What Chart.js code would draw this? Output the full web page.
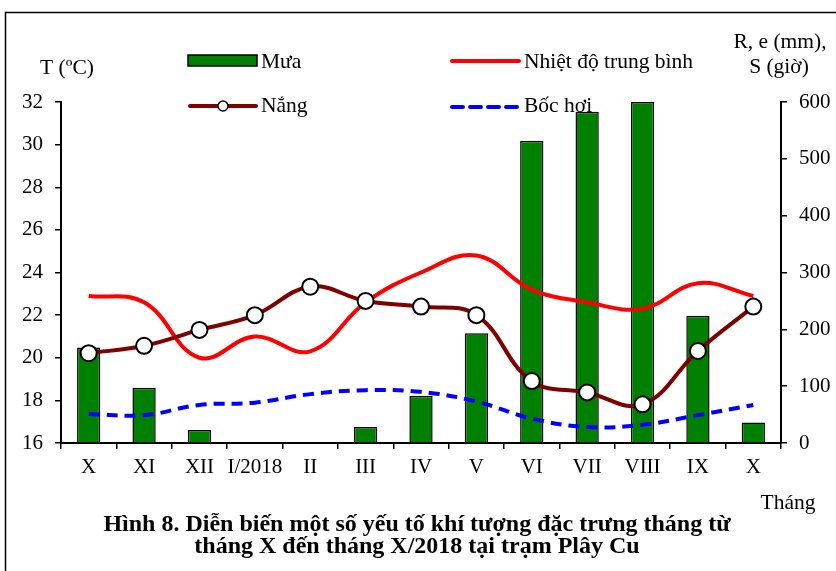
<!DOCTYPE html>
<html>
<head>
<meta charset="utf-8">
<script src="https://cdn.jsdelivr.net/npm/chart.js@4"></script>
<style>
  html, body { margin: 0; padding: 0; background: #fff; }
  #wrap { position: relative; width: 836px; height: 571px; overflow: hidden; }
  #chart { position: absolute; left: 0; top: 0; }
  .caption {
    position: absolute; left: 0; width: 836px; text-align: center;
    font-family: 'Liberation Serif', 'Times New Roman', serif;
    font-weight: bold; font-size: 24px; color: #000; line-height: 22px;
  }
</style>
</head>
<body>
<div id="wrap">
  <canvas id="chart" width="836" height="571"></canvas>
  <div class="caption" style="top:512px; left:-1px;">Hình 8. Diễn biến một số yếu tố khí tượng đặc trưng tháng từ<br>tháng X đến tháng X/2018 tại trạm Plây Cu</div>
</div>
<script>
// months from X/2017 to X/2018
const months = ['X', 'XI', 'XII', 'I/2018', 'II', 'III', 'IV', 'V', 'VI', 'VII', 'VIII', 'IX', 'X'];

// rainfall (mm) - right axis
const rainfall = [168, 97, 23, 0, 0, 28, 83, 193, 532, 583, 600, 224, 36];
// mean temperature (°C) - left axis
const temperature = [22.9, 22.6, 20.0, 21.0, 20.3, 22.6, 24.0, 24.8, 23.2, 22.6, 22.3, 23.5, 22.9];
// sunshine hours - right axis
const sunshine = [158, 171, 199, 225, 275, 250, 240, 225, 109, 89, 68, 162, 240];
// evaporation (mm) - right axis
const evaporation = [51, 49, 67, 71, 86, 93, 90, 73, 43, 28, 32, 49, 67];

const tempTicks = [16, 18, 20, 22, 24, 26, 28, 30, 32];
const rightTicks = [0, 100, 200, 300, 400, 500, 600];

const FONT = "'Liberation Serif', 'Times New Roman', serif";

// frame, legend and axis titles
const decorations = {
    id: 'decorations',
    afterDraw(chart) {
        const ctx = chart.ctx;
        ctx.save();

        // outer frame (only top and left edges fall inside the picture)
        ctx.strokeStyle = '#000';
        ctx.lineWidth = 1.5;
        ctx.strokeRect(5.5, 12.5, 1000, 800);

        ctx.font = '21.5px ' + FONT;
        ctx.fillStyle = '#000';
        ctx.textBaseline = 'middle';

        // Mưa
        ctx.fillStyle = '#008000';
        ctx.fillRect(188, 55, 69, 11);
        ctx.strokeStyle = '#000';
        ctx.lineWidth = 1.5;
        ctx.strokeRect(188, 55, 69, 11);
        ctx.fillStyle = '#000';
        ctx.fillText('Mưa', 261, 62);

        // Nhiệt độ trung bình
        ctx.strokeStyle = '#ff0000';
        ctx.lineWidth = 4;
        ctx.lineCap = 'round';
        ctx.beginPath();
        ctx.moveTo(452, 61);
        ctx.lineTo(519, 61);
        ctx.stroke();
        ctx.fillText('Nhiệt độ trung bình', 524, 62);

        // Nắng
        ctx.strokeStyle = '#800000';
        ctx.lineWidth = 4;
        ctx.beginPath();
        ctx.moveTo(190, 106);
        ctx.lineTo(256, 106);
        ctx.stroke();
        ctx.beginPath();
        ctx.arc(223, 106, 5, 0, Math.PI * 2);
        ctx.fillStyle = '#fff';
        ctx.fill();
        ctx.strokeStyle = '#000';
        ctx.lineWidth = 1.5;
        ctx.stroke();
        ctx.fillStyle = '#000';
        ctx.fillText('Nắng', 261, 106);

        // Bốc hơi
        ctx.strokeStyle = '#0000ff';
        ctx.lineWidth = 4;
        ctx.setLineDash([11, 7]);
        ctx.beginPath();
        ctx.moveTo(452, 107);
        ctx.lineTo(520, 107);
        ctx.stroke();
        ctx.setLineDash([]);
        ctx.fillText('Bốc hơi', 524, 106);

        // axis titles
        ctx.textAlign = 'center';
        ctx.fillText('T (ºC)', 67, 68);
        ctx.fillText('R, e (mm),', 780, 42);
        ctx.fillText('S (giờ)', 779, 67);
        ctx.fillText('Tháng', 788, 503);

        ctx.restore();
    }
};

const axisFont = { family: FONT, size: 21 };

new Chart(document.getElementById('chart'), {
    type: 'bar',
    data: {
        labels: months,
        datasets: [
            {
                type: 'line',
                label: 'Nắng',
                data: sunshine,
                yAxisID: 'y1',
                borderColor: '#800000',
                borderWidth: 4,
                tension: 0.4,
                pointRadius: 8,
                pointBackgroundColor: '#fff',
                pointBorderColor: '#000',
                pointBorderWidth: 2,
                order: 1
            },
            {
                type: 'line',
                label: 'Nhiệt độ trung bình',
                data: temperature,
                yAxisID: 'y',
                borderColor: '#ff0000',
                borderWidth: 4,
                tension: 0.4,
                pointRadius: 0,
                order: 2
            },
            {
                type: 'line',
                label: 'Bốc hơi',
                data: evaporation,
                yAxisID: 'y1',
                borderColor: '#0000ff',
                borderWidth: 4,
                borderDash: [11, 7],
                tension: 0.4,
                pointRadius: 0,
                order: 3
            },
            {
                label: 'Mưa',
                data: rainfall,
                yAxisID: 'y1',
                backgroundColor: '#008000',
                borderColor: '#000',
                borderWidth: 1.5,
                barPercentage: 0.42,
                categoryPercentage: 1,
                order: 4
            }
        ]
    },
    options: {
        responsive: false,
        animation: false,
        layout: {
            padding: { top: 102, left: 0, right: 0, bottom: 0 }
        },
        plugins: {
            legend: { display: false },
            tooltip: { enabled: false }
        },
        scales: {
            x: {
                offset: true,
                grid: {
                    offset: true,
                    drawOnChartArea: false,
                    drawTicks: true,
                    tickLength: 6,
                    color: '#000',
                    lineWidth: 1.5
                },
                border: { color: '#000', width: 2 },
                ticks: {
                    font: axisFont,
                    color: '#000',
                    padding: 6,
                    maxRotation: 0,
                    autoSkip: false
                },
                afterFit(scale) { scale.height = 128; }
            },
            y: {
                position: 'left',
                min: 16,
                max: 32,
                afterBuildTicks(scale) { scale.ticks = tempTicks.map(v => ({ value: v })); },
                grid: {
                    drawOnChartArea: false,
                    drawTicks: true,
                    tickLength: 6,
                    color: '#000',
                    lineWidth: 1.5
                },
                border: { color: '#000', width: 2 },
                ticks: { font: axisFont, color: '#000', padding: 12 },
                afterFit(scale) { scale.width = 61; }
            },
            y1: {
                position: 'right',
                min: 0,
                max: 600,
                afterBuildTicks(scale) { scale.ticks = rightTicks.map(v => ({ value: v })); },
                grid: {
                    drawOnChartArea: false,
                    drawTicks: true,
                    tickLength: 6,
                    color: '#000',
                    lineWidth: 1.5
                },
                border: { color: '#000', width: 2 },
                ticks: { font: axisFont, color: '#000', padding: 12 },
                afterFit(scale) { scale.width = 55; }
            }
        }
    },
    plugins: [decorations]
});
</script>
</body>
</html>
